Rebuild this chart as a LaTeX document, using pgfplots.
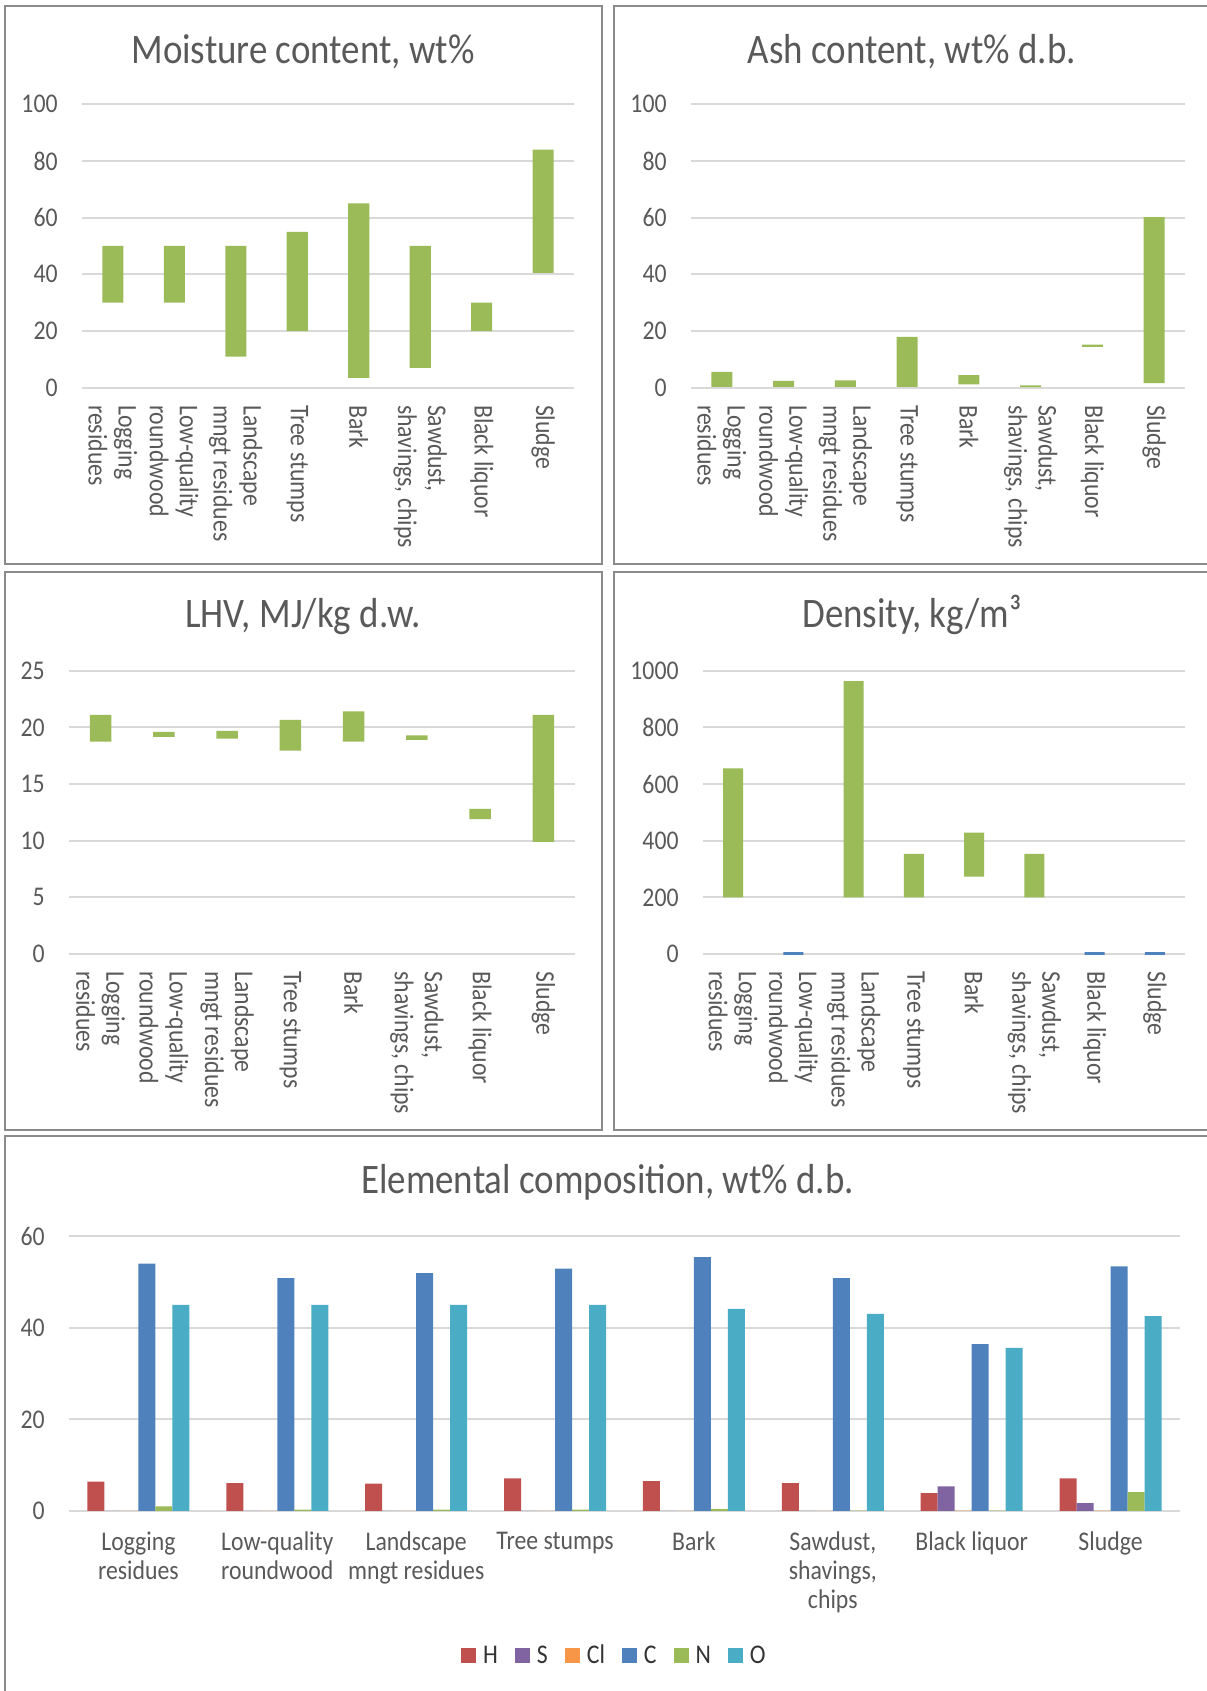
\documentclass[border=0pt]{standalone}
\usepackage{fontspec}
\setmainfont{Carlito}[FakeStretch=0.88]
\usepackage{pgfplots}
\usepackage{pgfplotstable}
\pgfplotsset{compat=1.18}

\definecolor{txt}{HTML}{595959}
\definecolor{gridc}{HTML}{D9D9D9}
\definecolor{framec}{HTML}{8A8A8A}
\definecolor{rangec}{HTML}{9BBB59}
\definecolor{cH}{HTML}{C0504D}
\definecolor{cS}{HTML}{8064A2}
\definecolor{cCl}{HTML}{F79646}
\definecolor{cC}{HTML}{4F81BD}
\definecolor{cN}{HTML}{9BBB59}
\definecolor{cO}{HTML}{4BACC6}

% low / high ends of each property range, one row per feedstock
\pgfplotstableread{
x lo hi
0 30 50
1 30 50
2 11 50
3 20 55
4 3.5 65
5 7 50
6 20 30
7 40.5 84
}\moisture

\pgfplotstableread{
x lo hi
0 0.3 5.6
1 0.3 2.4
2 0.3 2.6
3 0.3 17.9
4 1.2 4.4
5 0.2 0.8
6 14.4 15.2
7 1.6 60.2
}\ash

\pgfplotstableread{
x lo hi
0 18.75 21.1
1 19.15 19.6
2 19.0 19.7
3 17.95 20.65
4 18.75 21.4
5 18.9 19.3
6 11.9 12.8
7 9.9 21.1
}\lhv

\pgfplotstableread{
x lo hi
0 200 655
1 0 0
2 200 963
3 200 353
4 273 428
5 200 353
6 0 0
7 0 0
}\density

\pgfplotstableread{
x H S Cl C N O
0 6.4 0.03 0.02 54.0 1.0 45.0
1 6.1 0.02 0.01 50.8 0.3 45.0
2 6.0 0.03 0.02 51.9 0.3 45.0
3 7.1 0.02 0.01 52.9 0.3 45.0
4 6.5 0.05 0.02 55.4 0.4 44.1
5 6.1 0.02 0.01 50.8 0.1 43.0
6 3.9 5.4 0.10 36.4 0.1 35.6
7 7.1 1.7 0.10 53.4 4.1 42.5
}\elements

\tikzset{
  ttl/.style={anchor=base, text=txt, font=\fontsize{21pt}{25pt}\selectfont},
}

\pgfplotsset{
  base/.style={
    scale only axis, clip=false, enlargelimits=false,
    axis line style={draw=none}, tick style={draw=none},
    ymajorgrids, grid style={gridc, line width=1pt},
    ymin=0, xmin=-0.5, xmax=7.5, xtick={0,...,7},
    tick label style={font=\fontsize{13.5pt}{15pt}\selectfont, text=txt},
    /pgf/number format/assume math mode=true,
    /pgf/number format/1000 sep={},
    yticklabel style={inner sep=0pt, xshift=-12pt},
  },
  range/.style={
    base, ybar stacked,
    xticklabels={{Logging\\residues},{Low-quality\\roundwood},{Landscape\\mngt residues},{Tree stumps},{Bark},{Sawdust,\\shavings, chips},{Black liquor},{Sludge}},
    xticklabel style={rotate=-90, anchor=west, align=left, inner sep=0pt,
      font=\fontsize{13.5pt}{15pt}\selectfont},
    xticklabel shift=8.5pt,
  },
  leg/.style={legend image code/.code={\fill[##1] (0pt,-3.75pt) rectangle (7.5pt,3.75pt);}},
}

\begin{document}
\begin{tikzpicture}
\path[use as bounding box] (0,0) rectangle (603pt,845.5pt);

% panel frames
\draw[framec, line width=1pt] (2.5pt,563.5pt) rectangle (301pt,842.5pt);
\draw[framec, line width=1pt] (307pt,563.5pt) rectangle (606pt,842.5pt);
\draw[framec, line width=1pt] (2.5pt,280.5pt) rectangle (301pt,559.5pt);
\draw[framec, line width=1pt] (307pt,280.5pt) rectangle (606pt,559.5pt);
\draw[framec, line width=1pt] (2.5pt,-4pt) rectangle (606pt,277.5pt);

% titles
\node[ttl] at (151.5pt,813.5pt) {Moisture content, wt\%};
\node[ttl] at (456pt,813.5pt) {Ash content, wt\% d.b.};
\node[ttl] at (151.5pt,531.5pt) {LHV, MJ/kg d.w.};
\node[ttl] at (456pt,531.5pt) {Density, kg/m³};
\node[ttl] at (303.75pt,248.5pt) {Elemental composition, wt\% d.b.};

% moisture
\begin{axis}[range, at={(41pt,651.65pt)}, anchor=south west,
  width=246pt, height=141.7pt, ymax=100, ytick={0,20,...,100}, bar width=10.5pt]
  \addplot[draw=none, fill=none] table[x=x, y=lo] {\moisture};
  \addplot[draw=none, fill=rangec] table[x=x, y expr=\thisrow{hi}-\thisrow{lo}] {\moisture};
\end{axis}

% ash
\begin{axis}[range, at={(345.5pt,651.65pt)}, anchor=south west,
  width=247pt, height=141.7pt, ymax=100, ytick={0,20,...,100}, bar width=10.5pt]
  \addplot[draw=none, fill=none] table[x=x, y=lo] {\ash};
  \addplot[draw=none, fill=rangec] table[x=x, y expr=\thisrow{hi}-\thisrow{lo}] {\ash};
\end{axis}

% lower heating value
\begin{axis}[range, at={(34.5pt,368.5pt)}, anchor=south west,
  width=253pt, height=141.65pt, ymax=25, ytick={0,5,...,25}, bar width=10.75pt]
  \addplot[draw=none, fill=none] table[x=x, y=lo] {\lhv};
  \addplot[draw=none, fill=rangec] table[x=x, y expr=\thisrow{hi}-\thisrow{lo}] {\lhv};
\end{axis}

% density
\begin{axis}[range, at={(351.5pt,368.5pt)}, anchor=south west,
  width=241pt, height=141.65pt, ymax=1000, ytick={0,200,...,1000}, bar width=10pt]
  \addplot[draw=none, fill=none] table[x=x, y=lo] {\density};
  \addplot[draw=none, fill=rangec] table[x=x, y expr=\thisrow{hi}-\thisrow{lo}] {\density};
\end{axis}
% feedstocks without a density range
\begin{axis}[scale only axis, hide axis, clip=false, at={(351.5pt,368.5pt)}, anchor=south west,
  width=241pt, height=141.65pt, xmin=-0.5, xmax=7.5, ymin=0, ymax=1000, enlargelimits=false]
  \addplot[ybar, bar width=10pt, draw=cC, fill=cC, line width=1.5pt]
    coordinates {(1,0) (6,0) (7,0)};
\end{axis}

% elemental composition
\begin{axis}[base, at={(34.5pt,90pt)}, anchor=south west,
  width=555.5pt, height=137.5pt, ymax=60, ytick={0,20,40,60},
  ybar=0pt, bar width=8.5pt,
  xticklabels={{Logging\\residues},{Low-quality\\roundwood},{Landscape\\mngt residues},{Tree stumps},{Bark},{Sawdust,\\shavings,\\chips},{Black liquor},{Sludge}},
  xticklabel style={anchor=north, align=center, inner sep=0pt,
    font=\fontsize{13.5pt}{14.5pt}\selectfont},
  xticklabel shift=6pt,
  legend columns=6,
  legend style={at={(0.4905,-0.527)}, anchor=center, draw=none, fill=none,
    inner sep=0pt, nodes={inner sep=0.5pt},
    font=\fontsize{13.5pt}{15pt}\selectfont, text=black!80,
    /tikz/every odd column/.append style={column sep=3pt},
    /tikz/every even column/.append style={column sep=8pt}},
]
  \addplot[leg, draw=none, fill=cH] table[x=x, y=H] {\elements};
  \addlegendentry{H}
  \addplot[leg, draw=none, fill=cS] table[x=x, y=S] {\elements};
  \addlegendentry{S}
  \addplot[leg, draw=none, fill=cCl] table[x=x, y=Cl] {\elements};
  \addlegendentry{Cl}
  \addplot[leg, draw=none, fill=cC] table[x=x, y=C] {\elements};
  \addlegendentry{C}
  \addplot[leg, draw=none, fill=cN] table[x=x, y=N] {\elements};
  \addlegendentry{N}
  \addplot[leg, draw=none, fill=cO] table[x=x, y=O] {\elements};
  \addlegendentry{O}
\end{axis}
\end{tikzpicture}
\end{document}
